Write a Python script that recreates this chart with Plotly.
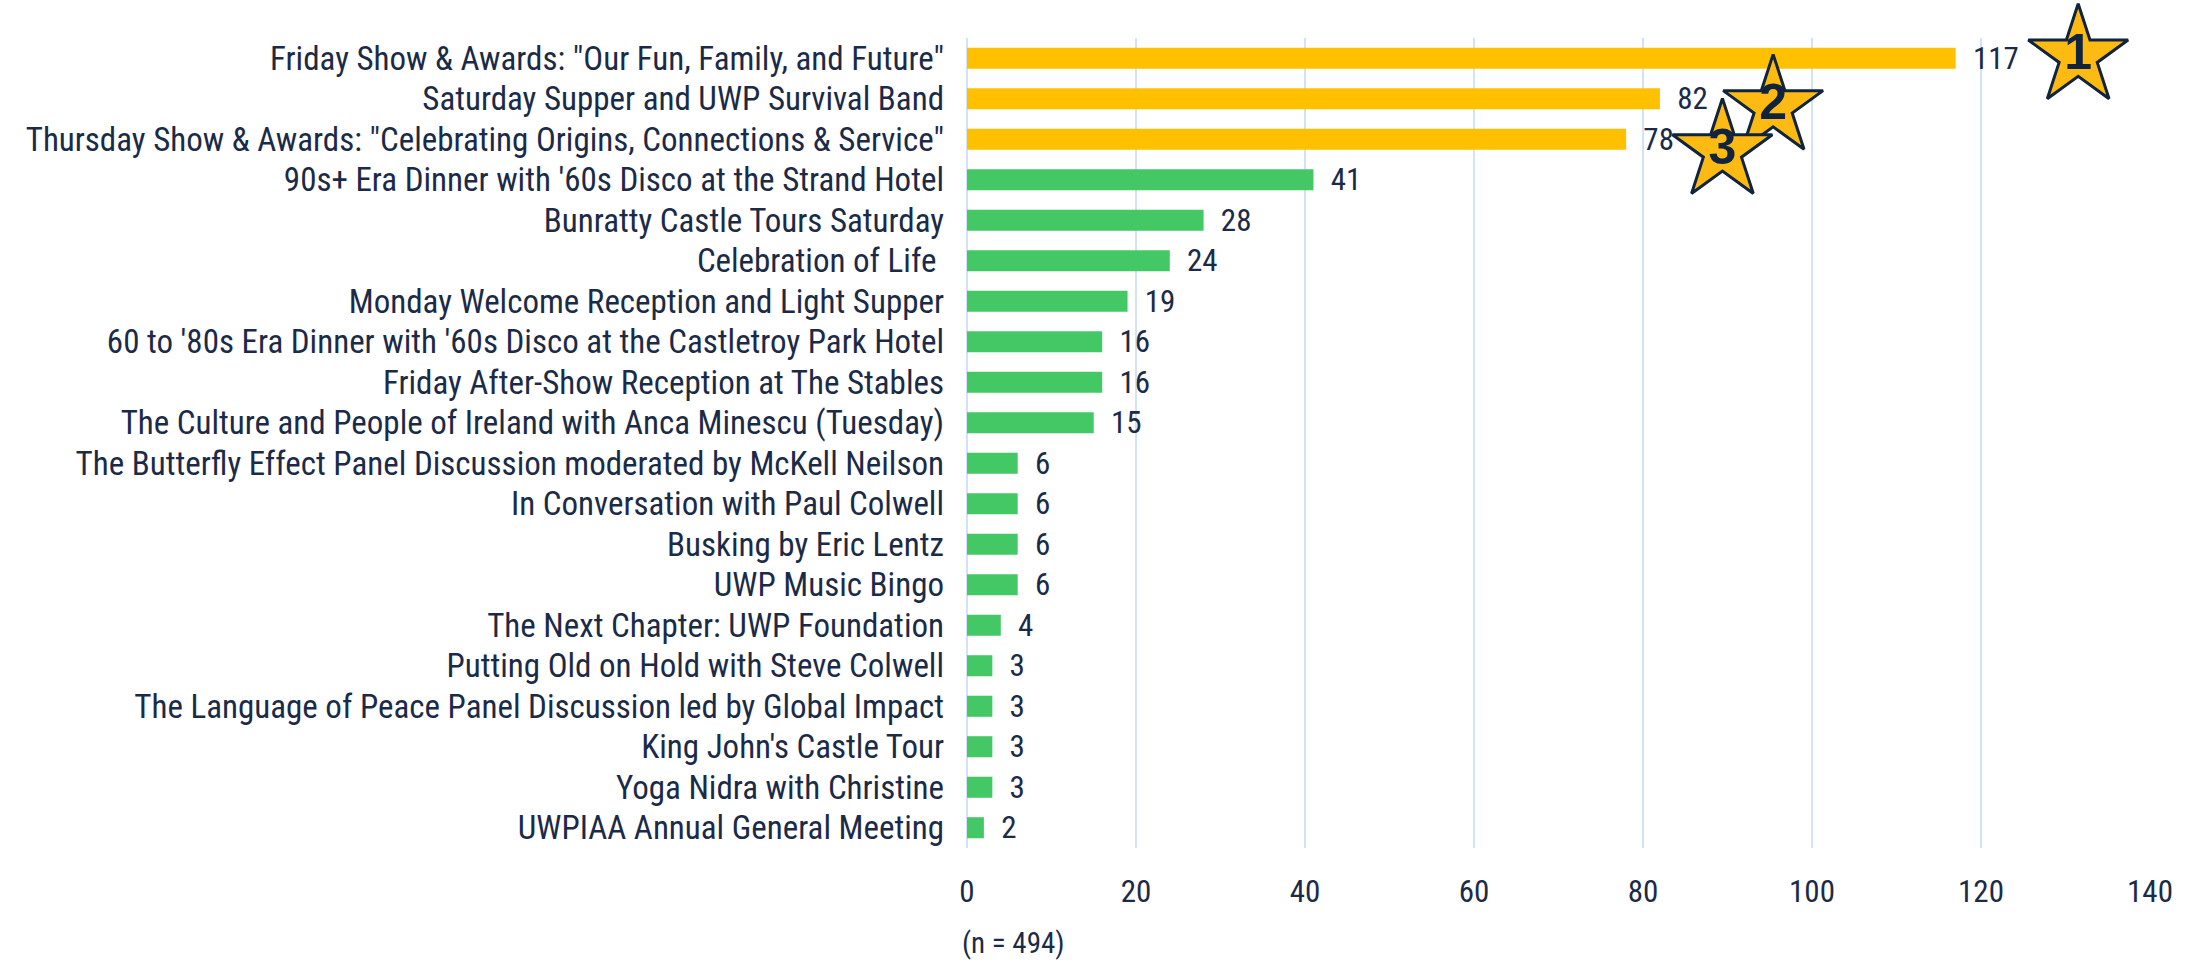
import plotly.graph_objects as go

categories = [
    'Friday Show & Awards: "Our Fun, Family, and Future"',
    'Saturday Supper and UWP Survival Band',
    'Thursday Show & Awards: "Celebrating Origins, Connections & Service"',
    "90s+ Era Dinner with '60s Disco at the Strand Hotel",
    "Bunratty Castle Tours Saturday",
    "Celebration of Life ",
    "Monday Welcome Reception and Light Supper",
    "60 to '80s Era Dinner with '60s Disco at the Castletroy Park Hotel",
    "Friday After-Show Reception at The Stables",
    "The Culture and People of Ireland with Anca Minescu (Tuesday)",
    "The Butterfly Effect Panel Discussion moderated by McKell Neilson",
    "In Conversation with Paul Colwell",
    "Busking by Eric Lentz",
    "UWP Music Bingo",
    "The Next Chapter: UWP Foundation",
    "Putting Old on Hold with Steve Colwell",
    "The Language of Peace Panel Discussion led by Global Impact",
    "King John's Castle Tour",
    "Yoga Nidra with Christine",
    "UWPIAA Annual General Meeting",
]
values = [117, 82, 78, 41, 28, 24, 19, 16, 16, 15, 6, 6, 6, 6, 4, 3, 3, 3, 3, 2]
top_n = 3
star_labels = ["1", "2", "3"]
star_x = [131.5, 95.4, 89.4]
star_y = [-0.05, 1.20, 2.29]
x_ticks = [0, 20, 40, 60, 80, 100, 120, 140]
note = "(n = 494)"

GOLD = "#FFC000"
GREEN = "#44C866"
NAVY = "#1B2B47"
LABEL_FONT = "Liberation Sans Narrow, Roboto Condensed, Arial Narrow, Liberation Sans, sans-serif"

idx = list(range(len(categories)))
colors = [GOLD if i < top_n else GREEN for i in idx]

fig = go.Figure()
fig.add_trace(go.Bar(
    x=values, y=idx, orientation="h",
    marker=dict(color=colors, line=dict(width=0)),
    width=0.52,
    text=values,
    texttemplate="\u00a0\u00a0%{x}",
    textposition="outside",
    constraintext="none",
    cliponaxis=False,
    textfont=dict(family=LABEL_FONT, size=31, color=NAVY),
    hoverinfo="skip",
))

for sx, sy, lab in zip(star_x, star_y, star_labels):
    fig.add_trace(go.Scatter(
        x=[sx], y=[sy], mode="markers+text",
        text=[lab], textposition="middle center",
        marker=dict(symbol="star", size=75, color="#FDBA12",
                    line=dict(color="#10243D", width=3)),
        textfont=dict(family="Liberation Sans, Arial, sans-serif",
                      size=50, color="#10243D", weight="bold"),
        cliponaxis=False, hoverinfo="skip",
    ))

fig.update_layout(
    width=2188, height=960,
    margin=dict(l=967, r=38, t=38, b=112, autoexpand=False),
    paper_bgcolor="white", plot_bgcolor="white",
    showlegend=False,
    bargap=0.48,
)
fig.update_xaxes(
    range=[0, 140], tickvals=x_ticks, showgrid=True, automargin=False,
    gridcolor="#D3E3F4", gridwidth=2, zeroline=True,
    zerolinecolor="#D3E3F4", zerolinewidth=2,
    showline=False, ticks="",
    tickfont=dict(family=LABEL_FONT, size=31, color=NAVY),
    ticklabelstandoff=22,
)
fig.update_yaxes(
    range=[19.5, -0.5], tickvals=idx, ticktext=categories, automargin=False,
    showgrid=False, zeroline=False, showline=False, ticks="",
    tickfont=dict(family=LABEL_FONT, size=33, color=NAVY),
    ticklabelstandoff=22,
)
fig.add_annotation(
    text=note, xref="paper", yref="paper", x=-0.006, y=0.0,
    xanchor="left", yanchor="middle", yshift=-95, showarrow=False,
    font=dict(family=LABEL_FONT, size=29, color=NAVY),
)

fig.write_html(
    "out.html",
    config={"displayModeBar": False},
    post_script="document.body.style.margin='0';document.body.style.overflow='hidden';",
)
